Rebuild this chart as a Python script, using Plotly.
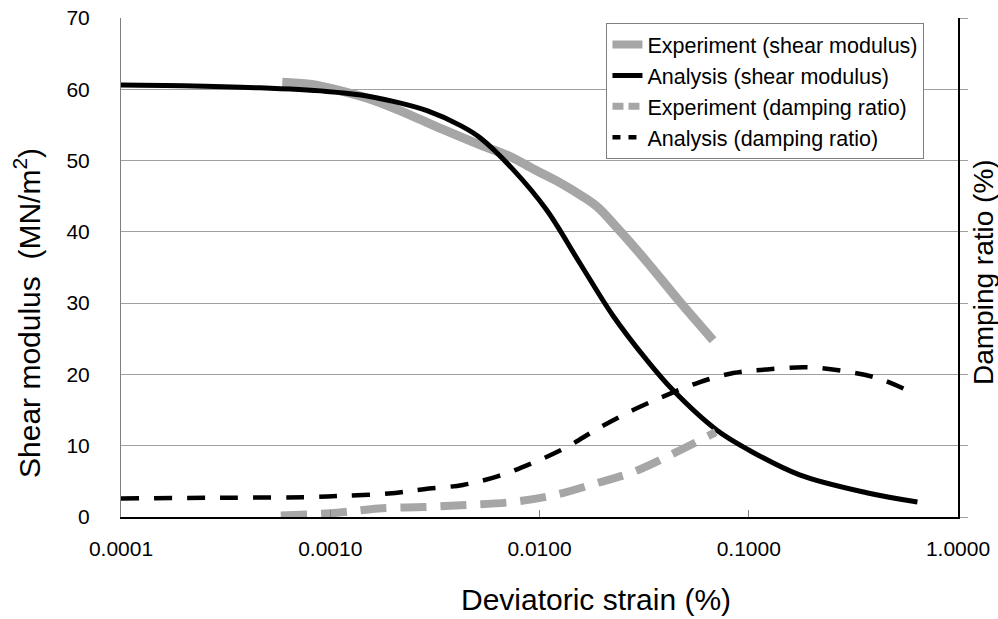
import plotly.graph_objects as go

# ---- data ----
strain_exp_G = [0.00059, 0.0008, 0.00115, 0.00167, 0.0024, 0.0035, 0.0052, 0.0072, 0.0095,
                0.0125, 0.0156, 0.0189, 0.0236, 0.0326, 0.0468, 0.0675]
G_exp = [61.0, 60.7, 59.7, 58.3, 56.4, 54.3, 52.2, 50.6, 48.7, 46.9, 45.2, 43.5, 40.5, 35.8, 30.2, 24.8]

strain_an_G = [0.0001, 0.0002, 0.00046, 0.00096, 0.0014, 0.002, 0.0029, 0.0042, 0.0052, 0.0075,
               0.0108, 0.0156, 0.0225, 0.0326, 0.0434, 0.0702, 0.1, 0.175, 0.366, 0.64]
G_an = [60.6, 60.5, 60.2, 59.7, 59.2, 58.3, 57.0, 54.9, 53.2, 48.7,
        43.1, 35.6, 28.2, 22.0, 17.8, 12.2, 9.4, 5.9, 3.4, 2.1]

strain_exp_D = [0.00058, 0.00108, 0.0017, 0.0028, 0.0045, 0.0074, 0.0119, 0.019, 0.028, 0.045, 0.0695]
D_exp = [0.1, 0.3, 0.6, 0.7, 0.85, 1.05, 1.55, 2.4, 3.15, 4.55, 5.95]

strain_an_D = [0.0001, 0.0003, 0.00083, 0.0012, 0.0019, 0.0028, 0.0043, 0.0063, 0.0093, 0.0135,
               0.019, 0.028, 0.0405, 0.058, 0.0843, 0.122, 0.19, 0.28, 0.41, 0.61]
D_an = [1.3, 1.35, 1.4, 1.5, 1.65, 1.95, 2.25, 2.85, 3.8, 4.9, 6.2, 7.5, 8.55, 9.45, 10.1, 10.35,
        10.5, 10.25, 9.75, 8.7]

series_names = ["Experiment (shear modulus)", "Analysis (shear modulus)",
                "Experiment (damping ratio)", "Analysis (damping ratio)"]

x_ticks = [0.0001, 0.001, 0.01, 0.1, 1.0]
x_tick_text = ["0.0001", "0.0010", "0.0100", "0.1000", "1.0000"]

x_title = "Deviatoric strain (%)"
y_title = "Shear modulus  (MN/m<sup>2</sup>)"
y2_title = "Damping ratio (%)"

GRAY = "#a6a6a6"
FONT = "Arial, Liberation Sans, sans-serif"

styles = [
    dict(color=GRAY, width=9, shape="spline"),
    dict(color="black", width=5, shape="spline"),
    dict(color=GRAY, width=8, shape="spline", dash="26px,14px"),
    dict(color="black", width=4.5, shape="spline", dash="18px,15px"),
]
legend_styles = [
    dict(color=GRAY, width=8),
    dict(color="black", width=5),
    dict(color=GRAY, width=7, dash="11px,5px"),
    dict(color="black", width=4.5, dash="8px,8px"),
]

fig = go.Figure()
data = [(strain_exp_G, G_exp, "y"), (strain_an_G, G_an, "y"),
        (strain_exp_D, D_exp, "y2"), (strain_an_D, D_an, "y2")]
for (xs, ys, ax), st, name in zip(data, styles, series_names):
    fig.add_trace(go.Scatter(x=xs, y=ys, mode="lines", name=name, yaxis=ax,
                             line=st, showlegend=False))
# legend entries (no data, only swatches sized for the legend)
for st, name in zip(legend_styles, series_names):
    fig.add_trace(go.Scatter(x=[None], y=[None], mode="lines", name=name, line=st))

fig.update_layout(
    width=998, height=619,
    margin=dict(l=121, r=40, t=18, b=102, autoexpand=False),
    paper_bgcolor="white", plot_bgcolor="white",
    font=dict(family=FONT, color="black", size=21),
    showlegend=True,
    legend=dict(x=0.58, y=0.99, xanchor="left", yanchor="top",
                bgcolor="white", bordercolor="#808080", borderwidth=1,
                font=dict(size=21.5), itemwidth=30, tracegroupgap=0),
    xaxis=dict(type="log", range=[-4, 0], tickvals=x_ticks, ticktext=x_tick_text,
               showgrid=False, showline=True, linecolor="black", linewidth=1.5,
               ticks="inside", ticklen=7, tickcolor="#808080", tickwidth=1,
               ticklabelstandoff=12, zeroline=False, automargin=False),
    yaxis=dict(range=[0, 70], dtick=10, showgrid=True, gridcolor="#a0a0a0", gridwidth=1,
               showline=True, linecolor="#808080", linewidth=1, zeroline=False,
               ticks="", ticklabelstandoff=26, automargin=False),
    yaxis2=dict(overlaying="y", side="right", range=[0, 35], dtick=5, showgrid=False,
                showline=True, linecolor="black", linewidth=1.5, zeroline=False,
                ticks="outside", ticklen=8, tickcolor="#a0a0a0", showticklabels=False,
                automargin=False),
    annotations=[
        dict(text=x_title, xref="paper", yref="paper", x=(596 - 121) / 837, y=(517 - 599) / 499,
             xanchor="center", yanchor="middle", showarrow=False, font=dict(size=30)),
        dict(text=y_title, xref="paper", yref="paper", x=(27 - 121) / 837, y=(517 - 313) / 499,
             xanchor="center", yanchor="middle", textangle=-90, showarrow=False, font=dict(size=30)),
        dict(text=y2_title, xref="paper", yref="paper", x=(983 - 121) / 837, y=(517 - 272) / 499,
             xanchor="center", yanchor="middle", textangle=-90, showarrow=False, font=dict(size=28)),
    ],
)

fig.write_html("out.html", config={"displayModeBar": False},
               post_script="document.body.style.margin='0px';")
